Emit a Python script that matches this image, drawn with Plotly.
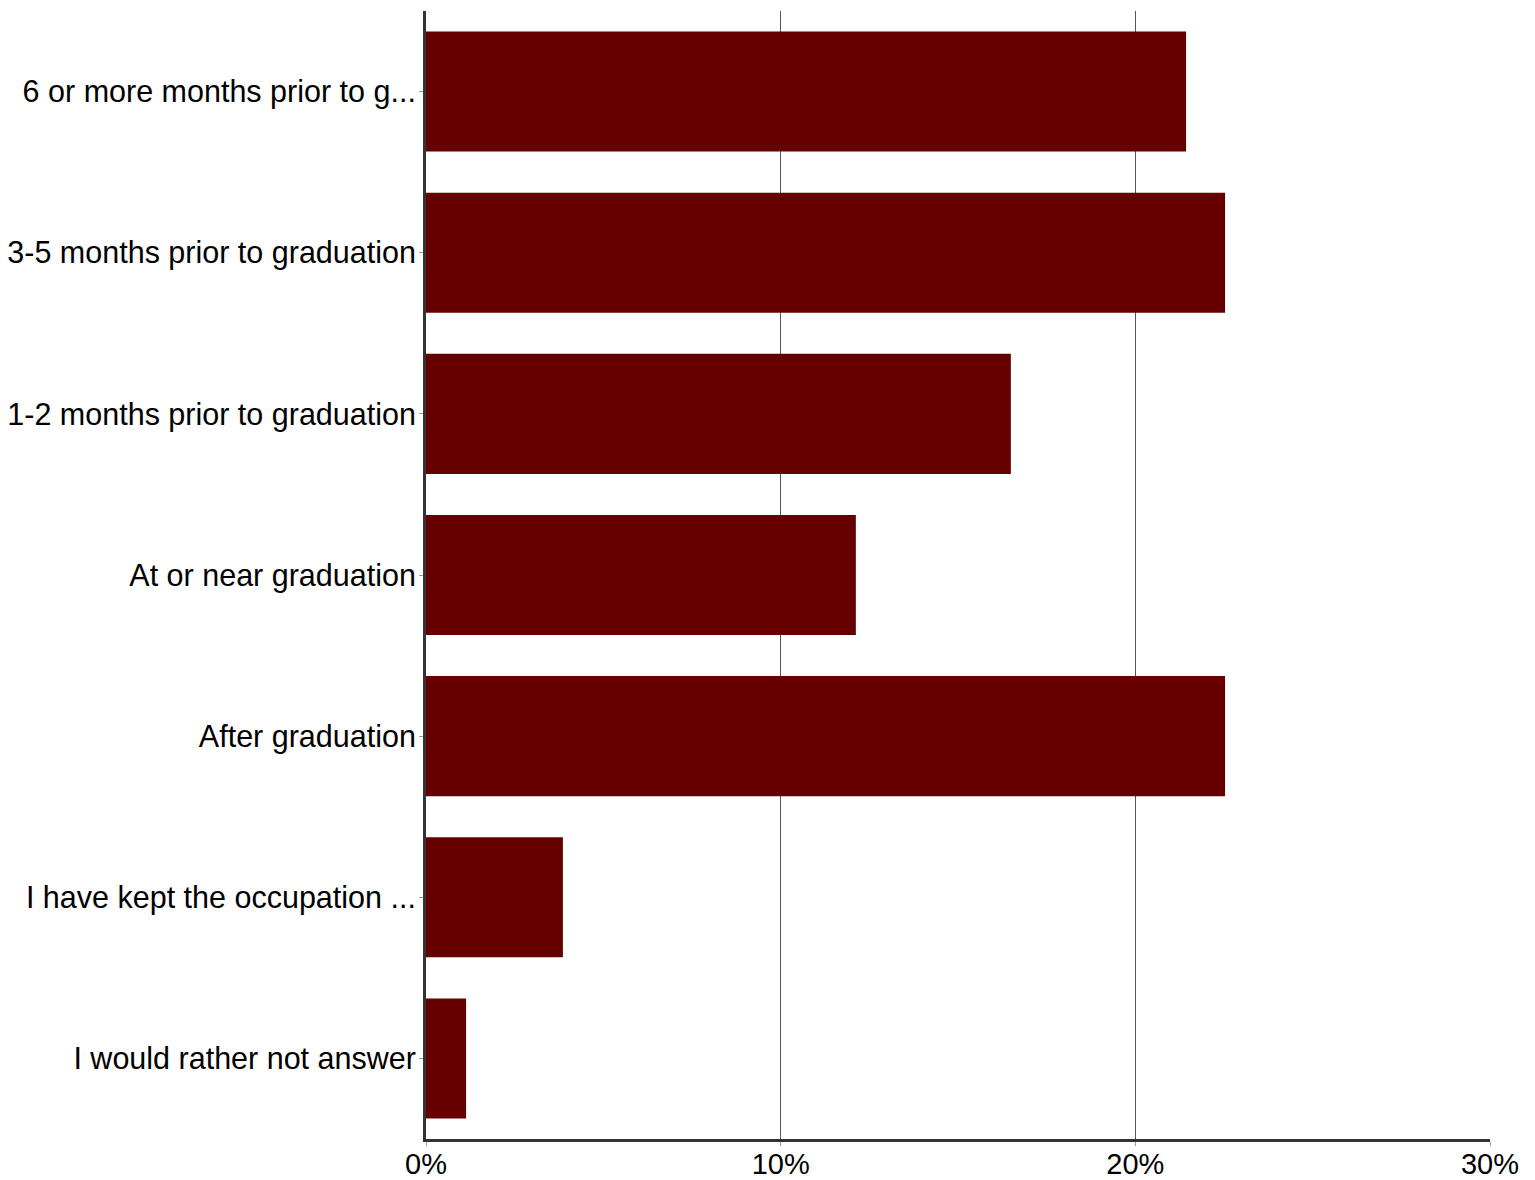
import plotly.graph_objects as go

categories = [
    "6 or more months prior to g...",
    "3-5 months prior to graduation",
    "1-2 months prior to graduation",
    "At or near graduation",
    "After graduation",
    "I have kept the occupation ...",
    "I would rather not answer",
]
values = [21.43, 22.53, 16.49, 12.12, 22.53, 3.86, 1.13]
x_tickvals = [0, 10, 20, 30]
x_ticktext = ["0%", "10%", "20%", "30%"]

fig = go.Figure(go.Bar(
    x=values,
    y=categories,
    orientation="h",
    marker=dict(color="#660000", line=dict(width=0)),
))

# page has default 8px body margin; figure placed so its visible part fills the 1535x1180 view
fig.update_layout(
    width=1527,
    height=1172,
    margin=dict(l=418, r=45, t=3, b=41),
    paper_bgcolor="white",
    plot_bgcolor="white",
    bargap=0.255,
    showlegend=False,
    font=dict(family="Liberation Sans, Arial, sans-serif", size=30, color="black"),
)
fig.update_xaxes(
    range=[0, 30],
    tickvals=x_tickvals,
    ticktext=x_ticktext,
    showgrid=True,
    gridcolor="#555555",
    gridwidth=1,
    showline=True,
    linecolor="#333333",
    linewidth=3,
    ticks="outside",
    ticklen=4,
    tickcolor="#999999",
    zeroline=False,
    tickfont=dict(size=29),
    automargin=False,
    ticklabelstandoff=-7,
)
fig.update_yaxes(
    categoryorder="array",
    categoryarray=categories[::-1],
    autorange=False,
    range=[-0.5, len(categories) - 0.5],
    showline=True,
    linecolor="#333333",
    linewidth=3,
    ticks="outside",
    ticklen=4,
    tickcolor="#999999",
    showgrid=False,
    tickfont=dict(size=30.5),
    automargin=False,
    ticklabelstandoff=-3,
)

fig.write_html("out.html")
